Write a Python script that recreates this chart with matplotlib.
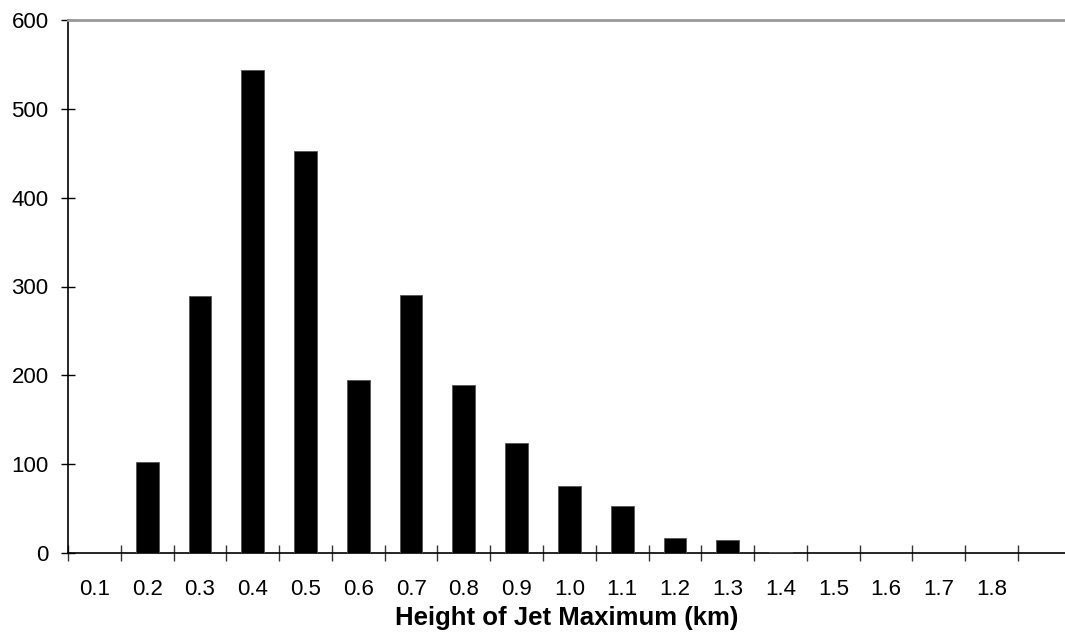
import matplotlib
matplotlib.use("Agg")
import matplotlib.pyplot as plt
import numpy as np

plt.rcParams["font.family"] = ["Liberation Sans", "DejaVu Sans"]

# Height classes (km) and counts
heights = ["0.1", "0.2", "0.3", "0.4", "0.5", "0.6", "0.7", "0.8", "0.9",
           "1.0", "1.1", "1.2", "1.3", "1.4", "1.5", "1.6", "1.7", "1.8"]
counts = [0, 102, 289, 544, 452, 195, 290, 189, 124,
          75, 53, 17, 15, 1, 0, 0, 0, 0]

fig = plt.figure(figsize=(10.65, 6.44), dpi=100)
ax = fig.add_axes([68 / 1065, 91 / 644, 1 - 68 / 1065, 533 / 644])

pos = np.arange(len(heights)) + 0.5
ax.bar(pos, counts, width=0.43, color="black", edgecolor="#555555", linewidth=0.6, zorder=3)

ax.set_xlim(0, 18.89)
ax.set_ylim(0, 600)

# category boundary ticks, labels centred in each class
ax.set_xticks(np.arange(0, len(heights) + 1))
ax.set_xticklabels([])
ax.set_xticks(pos, minor=True)
ax.set_xticklabels(heights, minor=True, fontsize=16)
ax.tick_params(axis="x", which="major", direction="inout", length=11, width=1, color="#333333")
ax.tick_params(axis="x", which="minor", length=0, pad=19)

ax.set_yticks([0, 100, 200, 300, 400, 500, 600])
ax.tick_params(axis="y", direction="inout", length=10, width=1, labelsize=16, pad=9)

ax.spines["right"].set_visible(False)
ax.spines["top"].set_color("#999999")
ax.spines["top"].set_linewidth(2)
ax.spines["left"].set_linewidth(1.2)
ax.spines["bottom"].set_linewidth(1.2)

ax.set_xlabel("Height of Jet Maximum (km)", fontsize=18.5, fontweight="bold", labelpad=4)

plt.savefig("out.png", dpi=100, facecolor="white")
plt.close()
